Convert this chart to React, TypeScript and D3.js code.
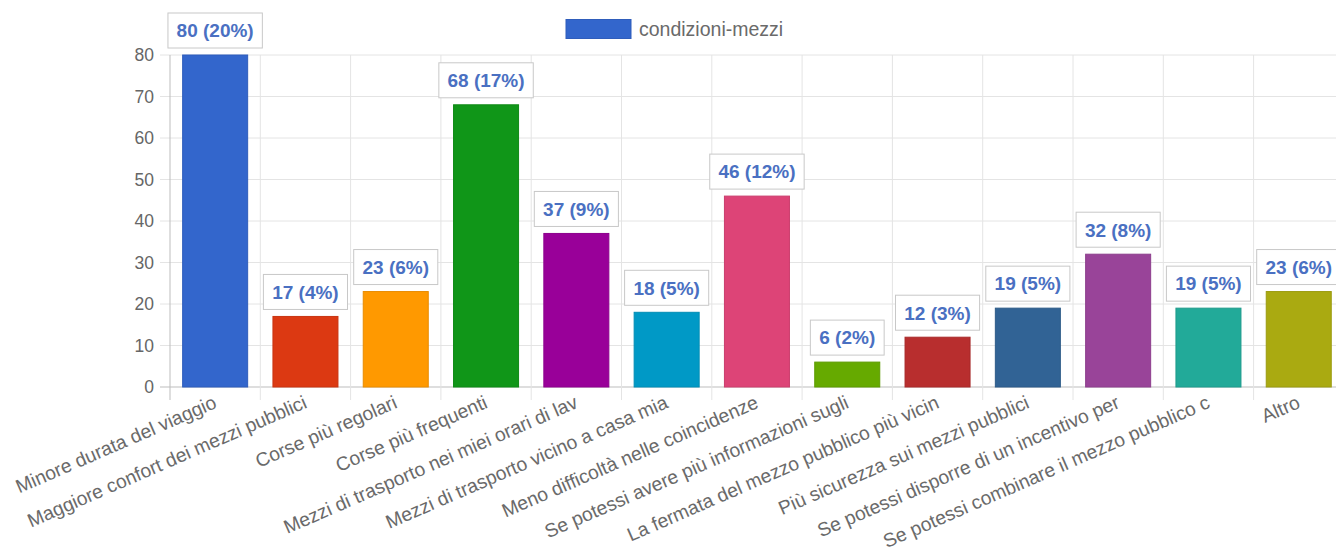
import React from "react";
import * as d3 from "d3";

const categories: string[] = [
  "Minore durata del viaggio",
  "Maggiore confort dei mezzi pubblici",
  "Corse più regolari",
  "Corse più frequenti",
  "Mezzi di trasporto nei miei orari di lav",
  "Mezzi di trasporto vicino a casa mia",
  "Meno difficoltà nelle coincidenze",
  "Se potessi avere più informazioni sugli",
  "La fermata del mezzo pubblico più vicin",
  "Più sicurezza sui mezzi pubblici",
  "Se potessi disporre di un incentivo per",
  "Se potessi combinare il mezzo pubblico c",
  "Altro",
];
const values: number[] = [80, 17, 23, 68, 37, 18, 46, 6, 12, 19, 32, 19, 23];
const percents: number[] = [20, 4, 6, 17, 9, 5, 12, 2, 3, 5, 8, 5, 6];
const colors: string[] = [
  "#3366cc", "#dc3912", "#ff9900", "#109618", "#990099", "#0099c6", "#dd4477",
  "#66aa00", "#b82e2e", "#316395", "#994499", "#22aa99", "#aaaa11",
];
const yTicks: number[] = [0, 10, 20, 30, 40, 50, 60, 70, 80];
const seriesName = "condizioni-mezzi";

const W = 1336;
const H = 553;
const left = 170;
const catW = 90.3;
const right = left + catW * categories.length;
const top = 55;
const bottom = 387;
const FONT = "'Liberation Sans', Arial, Helvetica, sans-serif";

export default function App() {
  const x = d3.scaleBand<string>().domain(categories).range([left, right]).paddingInner(0).paddingOuter(0);
  const y = d3.scaleLinear().domain([0, 80]).range([bottom, top]);
  const bw = x.bandwidth() * 0.72;
  const angle = -23.5;

  return (
    <svg width={W} height={H} style={{ position: "absolute", left: 0, top: 0, background: "#fff" }} fontFamily={FONT}>
      {/* horizontal grid */}
      {yTicks.map((t) => (
        <line key={"h" + t} x1={left - 10} x2={W} y1={y(t)} y2={y(t)} stroke={t === 0 ? "#bdbdbd" : "#e4e4e4"} strokeWidth={1} />
      ))}
      {/* vertical grid */}
      {d3.range(categories.length + 1).map((i) => {
        const xx = left + i * x.step();
        return (
          <line key={"v" + i} x1={xx} x2={xx} y1={top} y2={bottom + 13} stroke={i === 0 ? "#bdbdbd" : "#e4e4e4"} strokeWidth={1} />
        );
      })}
      {/* y tick labels */}
      {yTicks.map((t) => (
        <text key={"yt" + t} x={left - 16} y={y(t)} dy="0.35em" textAnchor="end" fontSize={17.5} fill="#666">
          {t}
        </text>
      ))}
      {/* bars */}
      {values.map((v, i) => {
        const cx = (x(categories[i]) as number) + x.bandwidth() / 2;
        const c = colors[i];
        return (
          <rect
            key={"b" + i}
            x={cx - bw / 2}
            y={y(v)}
            width={bw}
            height={bottom - y(v)}
            fill={c}
            stroke={d3.color(c)!.darker(0.25).toString()}
            strokeWidth={1}
          />
        );
      })}
      {/* data labels */}
      {values.map((v, i) => {
        const cx = (x(categories[i]) as number) + x.bandwidth() / 2;
        const label = `${v} (${percents[i]}%)`;
        const tw = label.length * 10.3 - 2;
        const bh = 35;
        const by = y(v) - 7 - bh;
        return (
          <g key={"l" + i}>
            <rect x={cx - tw / 2 - 7} y={by} width={tw + 14} height={bh} fill="#fff" stroke="#c8c8c8" strokeWidth={1} />
            <text x={cx} y={by + bh / 2} dy="0.36em" textAnchor="middle" fontSize={19} fontWeight="bold" fill="#4a70c2">
              {label}
            </text>
          </g>
        );
      })}
      {/* category labels */}
      {categories.map((c, i) => {
        const cx = (x(c) as number) + x.bandwidth() / 2;
        const ly = bottom + 14;
        return (
          <text
            key={"c" + i}
            transform={`translate(${cx},${ly}) rotate(${angle})`}
            textAnchor="end"
            dy="0.35em"
            fontSize={19.3}
            fill="#6a6a6a"
          >
            {c}
          </text>
        );
      })}
      {/* legend */}
      <rect x={566} y={19.5} width={65} height={19} fill={colors[0]} stroke={d3.color(colors[0])!.darker(0.25).toString()} />
      <text x={639} y={29} dy="0.35em" fontSize={19.5} fill="#6a6a6a">
        {seriesName}
      </text>
    </svg>
  );
}
